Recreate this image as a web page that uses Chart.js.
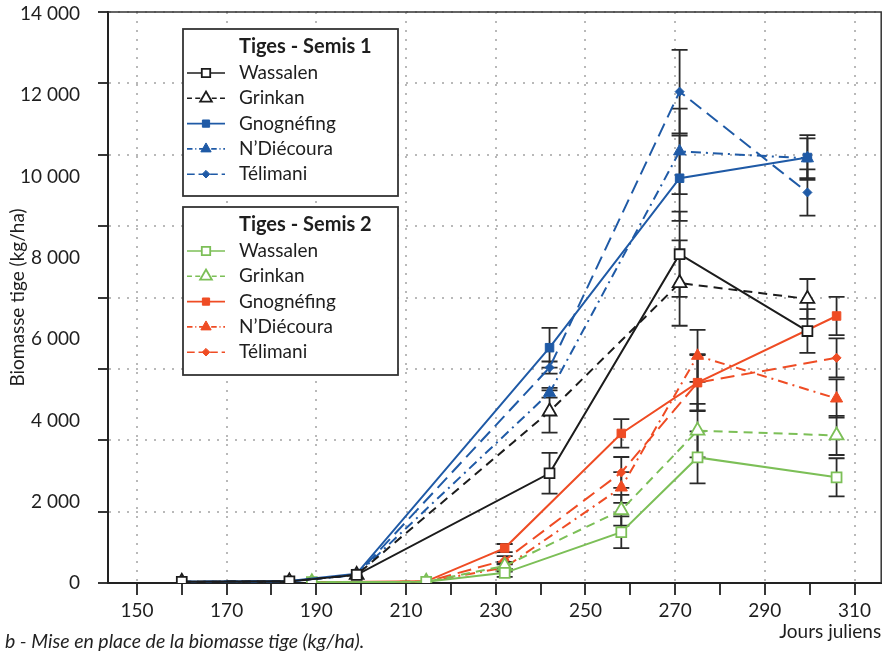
<!DOCTYPE html>
<html><head><meta charset="utf-8">
<script src="https://cdn.jsdelivr.net/npm/chart.js@4/dist/chart.umd.min.js"></script>
<style>
html,body{margin:0;padding:0;background:#fff;}
#wrap{position:relative;width:891px;height:656px;overflow:hidden;}
#caption{position:absolute;left:5px;top:630px;font:italic 19.5px Lato,"Open Sans",sans-serif;line-height:22px;color:#222;white-space:nowrap;}
</style></head><body>
<div id="wrap"><canvas id="c" width="891" height="656"></canvas>
<div id="caption">b - Mise en place de la biomasse tige (kg/ha).</div></div>
<script>
// ---------- data (kg/ha) ----------
const cultivars = ['Wassalen', 'Grinkan', 'Gnognéfing', 'N\u2019Diécoura', 'Télimani'];
const groupTitles = ['Tiges - Semis 1', 'Tiges - Semis 2'];

const daysS1 = [160, 184, 199, 242, 271, 299.5];
const daysS2 = [189, 214.5, 232, 258, 275, 306];

const s1Wassalen   = [30, 40, 200, 2700, 8090, 6200];
const s1Grinkan    = [30, 40, 200, 4220, 7380, 6990];
const s1Gnognefing = [30, 50, 230, 5790, 9960, 10470];
const s1NDiecoura  = [30, 40, 200, 4680, 10620, 10450];
const s1Telimani   = [30, 40, 200, 5300, 12090, 9610];

const s1WassalenErr   = [0, 0, 0, 500, 1050, 540];
const s1GrinkanErr    = [0, 0, 0, 520, 1050, 490];
const s1GnognefingErr = [0, 0, 0, 490, 1050, 550];
const s1NDiecouraErr  = [0, 0, 0, 120, 1050, 490];
const s1TelimaniErr   = [0, 0, 0, 150, 1030, 570];

const s2Wassalen   = [20, 30, 250, 1250, 3090, 2600];
const s2Grinkan    = [20, 30, 420, 1790, 3750, 3630];
const s2Gnognefing = [20, 40, 860, 3680, 4930, 6570];
const s2NDiecoura  = [20, 30, 380, 2350, 5590, 4540];
const s2Telimani   = [20, 30, 560, 2720, 4930, 5540];

const s2WassalenErr   = [0, 0, 100, 390, 640, 470];
const s2GrinkanErr    = [0, 0, 100, 380, 660, 480];
const s2GnognefingErr = [0, 0, 100, 350, 700, 470];
const s2NDiecouraErr  = [0, 0, 100, 380, 640, 470];
const s2TelimaniErr   = [0, 0, 100, 380, 680, 480];

const xTickValues = [150,160,170,180,190,200,210,220,230,240,250,260,270,280,290,300,310];
const xLabelValues = [150,170,190,210,230,250,270,290,310];
const yTickLabels = [0, 2000, 4000, 6000, 8000, 10000, 12000, 14000];
const gridTickValues = [0, 2000, 4000, 6000, 8000, 10000, 12000, 14000, 16000];

// ---------- styles ----------
const BLACK = '#1c1c1c', BLUE = '#1f5aa6', GREEN = '#7cbf57', RED = '#ef4c24';
const FONT = 'Lato, "Open Sans", sans-serif';
const styles = {
  Wassalen:   {dash: [], point: 'rect', radius: 7, open: true},
  Grinkan:    {dash: [9, 6], point: 'triangle', radius: 8, open: true},
  Gnognefing: {dash: [], point: 'rect', radius: 6, open: false},
  NDiecoura:  {dash: [10, 5, 2, 5], point: 'triangle', radius: 7, open: false},
  Telimani:   {dash: [14, 7], point: 'rectRot', radius: 4.5, open: false}
};

function mkSet(label, group, key, days, vals, errs, color) {
  const st = styles[key];
  return {
    label: label, group: group,
    data: days.map((d, i) => ({x: d, y: vals[i]})),
    errs: errs,
    borderColor: color, borderWidth: 2, borderDash: st.dash,
    pointStyle: st.point, pointRadius: st.radius,
    pointBackgroundColor: st.open ? '#ffffff' : color,
    pointBorderColor: color, pointBorderWidth: st.open ? 1.8 : 1,
    fill: false, tension: 0, xAxisID: 'x', yAxisID: 'y'
  };
}

const datasets = [
  mkSet(cultivars[0], 0, 'Wassalen',   daysS1, s1Wassalen,   s1WassalenErr,   BLACK),
  mkSet(cultivars[1], 0, 'Grinkan',    daysS1, s1Grinkan,    s1GrinkanErr,    BLACK),
  mkSet(cultivars[2], 0, 'Gnognefing', daysS1, s1Gnognefing, s1GnognefingErr, BLUE),
  mkSet(cultivars[3], 0, 'NDiecoura',  daysS1, s1NDiecoura,  s1NDiecouraErr,  BLUE),
  mkSet(cultivars[4], 0, 'Telimani',   daysS1, s1Telimani,   s1TelimaniErr,   BLUE),
  mkSet(cultivars[0], 1, 'Wassalen',   daysS2, s2Wassalen,   s2WassalenErr,   GREEN),
  mkSet(cultivars[1], 1, 'Grinkan',    daysS2, s2Grinkan,    s2GrinkanErr,    GREEN),
  mkSet(cultivars[2], 1, 'Gnognefing', daysS2, s2Gnognefing, s2GnognefingErr, RED),
  mkSet(cultivars[3], 1, 'NDiecoura',  daysS2, s2NDiecoura,  s2NDiecouraErr,  RED),
  mkSet(cultivars[4], 1, 'Telimani',   daysS2, s2Telimani,   s2TelimaniErr,   RED)
];

const fmt = v => String(v).replace(/\B(?=(\d{3})+(?!\d))/g, ' ');
const isLabelled = v => xLabelValues.indexOf(v) >= 0;

// error bars, drawn through the scales
const errorBars = {
  id: 'errorBars',
  beforeDatasetsDraw(chart) {
    const ctx = chart.ctx, xs = chart.scales.x, ys = chart.scales.y;
    ctx.save();
    ctx.strokeStyle = '#2a2a2a'; ctx.lineWidth = 1.8; ctx.setLineDash([]);
    chart.data.datasets.forEach(ds => {
      ds.data.forEach((p, i) => {
        const e = ds.errs[i];
        if (!e) return;
        const px = xs.getPixelForValue(p.x);
        const y1 = ys.getPixelForValue(p.y + e), y2 = ys.getPixelForValue(p.y - e);
        ctx.beginPath();
        ctx.moveTo(px, y1); ctx.lineTo(px, y2);
        ctx.moveTo(px - 8, y1); ctx.lineTo(px + 8, y1);
        ctx.moveTo(px - 8, y2); ctx.lineTo(px + 8, y2);
        ctx.stroke();
      });
    });
    ctx.restore();
  }
};

// plot frame (top and right sides)
const frame = {
  id: 'frame',
  afterDatasetsDraw(chart) {
    const {ctx, chartArea: a} = chart;
    ctx.save();
    ctx.strokeStyle = '#333'; ctx.lineWidth = 1.5; ctx.setLineDash([]);
    ctx.beginPath();
    ctx.moveTo(a.left, a.top); ctx.lineTo(a.right, a.top); ctx.lineTo(a.right, a.bottom);
    ctx.stroke();
    ctx.restore();
  }
};

function drawMarker(ctx, ds, x, y) {
  ctx.save();
  ctx.setLineDash([]);
  ctx.fillStyle = ds.pointBackgroundColor;
  ctx.strokeStyle = ds.pointBorderColor;
  ctx.lineWidth = ds.pointBorderWidth;
  Chart.helpers.drawPoint(ctx, {pointStyle: ds.pointStyle, radius: ds.pointRadius * 0.85,
    borderWidth: ds.pointBorderWidth, rotation: 0}, x, y);
  ctx.restore();
}

// legend boxes
const legendBoxes = {
  id: 'legendBoxes',
  afterDraw(chart) {
    const ctx = chart.ctx;
    const boxes = [{x: 183, y: 29, w: 215, h: 167}, {x: 183, y: 207, w: 215, h: 168}];
    boxes.forEach((b, g) => {
      ctx.save();
      ctx.fillStyle = '#fff';
      ctx.fillRect(b.x, b.y, b.w, b.h);
      ctx.strokeStyle = '#333'; ctx.lineWidth = 1.8; ctx.setLineDash([]);
      ctx.strokeRect(b.x, b.y, b.w, b.h);
      ctx.fillStyle = '#1e1e1e';
      ctx.textBaseline = 'middle'; ctx.textAlign = 'left';
      ctx.font = 'bold 20px ' + FONT;
      ctx.fillText(groupTitles[g], b.x + 56, b.y + 18);
      ctx.font = '19px ' + FONT;
      const items = chart.data.datasets.filter(d => d.group === g);
      items.forEach((ds, i) => {
        const yy = b.y + 44 + i * 25.3;
        ctx.save();
        ctx.strokeStyle = ds.borderColor; ctx.lineWidth = 1.6;
        ctx.setLineDash(ds.borderDash.map(v => v * 0.55));
        ctx.beginPath(); ctx.moveTo(b.x + 4, yy); ctx.lineTo(b.x + 42, yy); ctx.stroke();
        ctx.restore();
        drawMarker(ctx, ds, b.x + 23, yy);
        ctx.fillStyle = '#1e1e1e';
        ctx.fillText(ds.label, b.x + 56, yy);
      });
      ctx.restore();
    });
  }
};

new Chart(document.getElementById('c'), {
  type: 'line',
  data: {datasets: datasets},
  options: {
    responsive: false, animation: false, devicePixelRatio: 1,
    layout: {padding: {top: 12, right: 7, left: 0, bottom: 0}},
    plugins: {legend: {display: false}, tooltip: {enabled: false}},
    scales: {
      x: {
        type: 'linear', min: 143.55, max: 315.95,
        afterBuildTicks: s => { s.ticks = xTickValues.map(v => ({value: v})); },
        afterFit: s => { s.height = 73; },
        ticks: {autoSkip: false, maxRotation: 0, padding: 4, color: '#1e1e1e',
          font: {family: FONT, size: 19},
          callback: v => (isLabelled(v) ? String(v) : '')},
        grid: {
          color: c => (c.tick && isLabelled(c.tick.value) ? '#b9b9b9' : 'rgba(0,0,0,0)'),
          lineWidth: 2, tickColor: '#222', tickLength: 12, tickWidth: 1.8
        },
        border: {display: true, color: '#222', width: 2, dash: [2, 7]},
        title: {display: true, text: 'Jours juliens', align: 'end', color: '#1e1e1e',
          font: {family: FONT, size: 19}, padding: {top: 4, bottom: 13}}
      },
      yg: {
        type: 'linear', position: 'left', weight: 0, min: 0, max: 16000,
        afterBuildTicks: s => { s.ticks = gridTickValues.map(v => ({value: v})); },
        afterFit: s => { s.width = 20; },
        ticks: {display: false},
        grid: {color: '#b9b9b9', lineWidth: 2, tickColor: '#222', tickLength: 10, tickWidth: 1.8},
        border: {display: true, color: '#222', width: 2, dash: [2, 7]}
      },
      y: {
        type: 'linear', position: 'left', weight: 1, min: 0, max: 14050,
        afterBuildTicks: s => { s.ticks = yTickLabels.map(v => ({value: v})); },
        afterFit: s => { s.width = 88; },
        grid: {display: false},
        border: {display: false},
        ticks: {padding: 0, color: '#1e1e1e', font: {family: FONT, size: 19},
          callback: v => fmt(v)},
        title: {display: true, text: 'Biomasse tige (kg/ha)', color: '#1e1e1e',
          font: {family: FONT, size: 19}, padding: {top: 6, bottom: 0}}
      }
    }
  },
  plugins: [errorBars, frame, legendBoxes]
});
</script>
</body></html>
